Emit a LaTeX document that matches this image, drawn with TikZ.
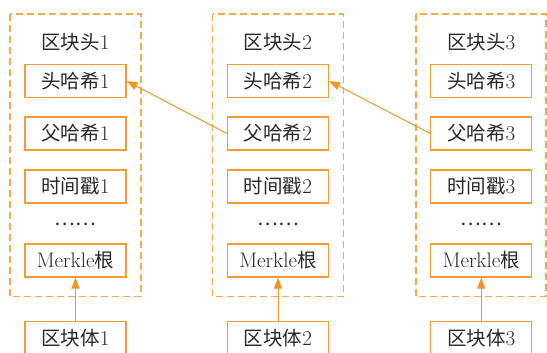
\documentclass[tikz,border=0pt]{standalone}
\usepackage{fontspec}
\newfontfamily\cjk{Noto Sans CJK SC}
\newcommand{\zh}[1]{{\fontsize{19.5}{21}\selectfont\cjk #1}}
\usetikzlibrary{arrows.meta}
\definecolor{frameor}{RGB}{247,168,72}
\definecolor{boxor}{RGB}{243,156,52}
\definecolor{arror}{RGB}{242,148,36}
\definecolor{txt}{RGB}{40,40,40}
\tikzset{
  field/.style={draw=boxor, line width=1.1pt, minimum width=101pt, minimum height=33pt, inner sep=0pt, text=txt, font=\fontsize{21}{22}\selectfont},
  plain/.style={inner sep=0pt, text=txt, font=\fontsize{21}{22}\selectfont},
  frame/.style={draw=frameor, line width=1.1pt, dash pattern=on 7pt off 4pt},
  link/.style={draw=arror, line width=1pt, -{Triangle[length=11pt,width=8pt]}}
}
\begin{document}
\begin{tikzpicture}[x=1pt,y=-1pt]
\useasboundingbox (0,0) rectangle (547,353);
\foreach \i/\xc/\fl/\fr in {1/75.5/10/141, 2/278/212.7/343.3, 3/481.3/416/546}{
  \draw[frame] (\fl,14) rectangle (\fr,296.7);
  \node[plain] (t\i) at (\xc,42) {\zh{区块头}\i};
  \node[field] (h\i) at (\xc,81) {\zh{头哈希}\i};
  \node[field] (p\i) at (\xc,133.5) {\zh{父哈希}\i};
  \node[field] (s\i) at (\xc,186.5) {\zh{时间戳}\i};
  \node[plain] (d\i) at (\xc,224) {\zh{……}};
  \node[field] (m\i) at (\xc,260.5) {Merkle\zh{根}};
  \node[field] (b\i) at (\xc,338) {\zh{区块体}\i};
  \draw[link] (b\i) -- (m\i);
}
\draw[link] (p2.west) -- (h1.east);
\draw[link] (p3.west) -- (h2.east);
\end{tikzpicture}
\end{document}
